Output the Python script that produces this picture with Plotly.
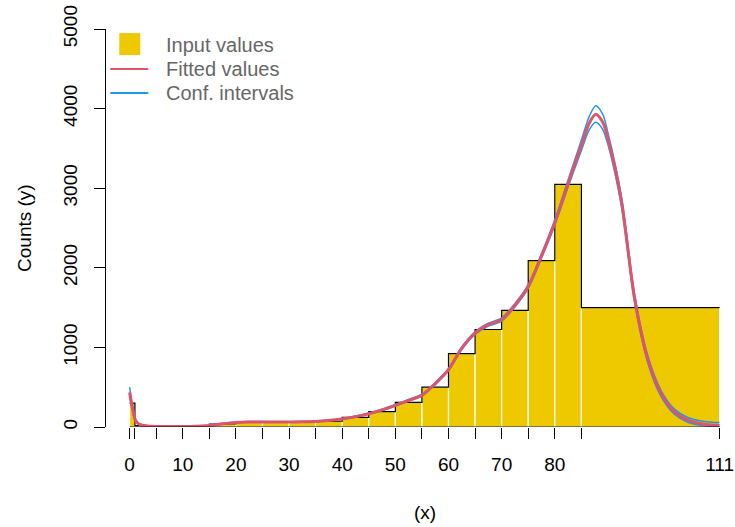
import plotly.graph_objects as go

# ---- data ----
breaks = [0, 1, 5, 10, 15, 20, 25, 30, 35, 40, 45, 50, 55, 60, 65, 70, 75, 80, 85, 111]
input_values = [300, 18, 6, 8, 38, 65, 62, 63, 72, 120, 193, 310, 500, 923, 1225, 1466, 2090, 3048, 1500]

fit_x = [0, 0.5, 1, 1.5, 2, 3, 4, 5, 7.5, 10, 12.5, 15, 17.5, 20, 22.5, 25, 27.5, 30, 32.5, 35,
         37.5, 40, 42.5, 45, 47.5, 50, 52.5, 55, 57.5, 60, 62.5, 65, 67.5, 70, 72.5, 75, 77.5,
         80, 82.5, 85, 86.5, 87.7, 89, 90, 92.5, 95, 97.5, 100, 102.5, 105, 107.5, 109, 111]
fitted = [435, 250, 100, 50, 30, 15, 9, 7, 6, 7, 10, 18, 40, 58, 64, 64, 63, 63, 65, 70,
          82, 102, 130, 168, 215, 272, 335, 400, 545, 720, 990, 1180, 1285, 1350, 1530, 1765, 2150,
          2570, 3060, 3540, 3820, 3928, 3830, 3620, 2850, 1620, 850, 420, 190, 85, 42, 28, 20]
lower = [380, 225, 90, 45, 26, 12, 6, 4, 3, 4, 7, 15, 36, 54, 60, 60, 59, 59, 61, 66,
         77, 96, 123, 160, 206, 262, 324, 388, 532, 706, 974, 1163, 1267, 1330, 1508, 1741, 2122,
         2535, 3015, 3475, 3735, 3828, 3740, 3545, 2785, 1568, 805, 382, 160, 60, 22, 10, 3]
upper = [500, 280, 112, 56, 34, 18, 12, 10, 9, 10, 13, 21, 44, 62, 68, 68, 67, 67, 69, 74,
         87, 108, 137, 176, 224, 282, 346, 412, 558, 734, 1006, 1197, 1303, 1370, 1552, 1789, 2178,
         2605, 3105, 3605, 3905, 4036, 3930, 3695, 2915, 1672, 895, 458, 225, 120, 75, 62, 55]

x_tick_vals = breaks
x_tick_text = ["0", "", "", "10", "", "20", "", "30", "", "40", "", "50", "", "60", "", "70", "", "80", "", "111"]
y_tick_vals = [0, 1000, 2000, 3000, 4000, 5000]

legend_labels = ["Input values", "Fitted values", "Conf. intervals"]

GOLD = "#EEC900"
RED = "#DF536B"
BLUE = "#2297E6"
FONT = "Liberation Sans, Arial, sans-serif"

mids = [(a + b) / 2 for a, b in zip(breaks[:-1], breaks[1:])]
widths = [b - a for a, b in zip(breaks[:-1], breaks[1:])]

fig = go.Figure()
fig.add_trace(go.Bar(x=mids, y=input_values, width=widths, marker=dict(color=GOLD, line=dict(color="white", width=1.2)),
                     name=legend_labels[0], hoverinfo="skip"))
fig.add_trace(go.Scatter(x=breaks, y=input_values + [input_values[-1]], mode="lines",
                         line=dict(color="black", width=1.2, shape="hv"), hoverinfo="skip"))
fig.add_trace(go.Scatter(x=fit_x, y=lower, mode="lines", line=dict(color=BLUE, width=1.5, shape="spline", smoothing=0.8)))
fig.add_trace(go.Scatter(x=fit_x, y=upper, mode="lines", line=dict(color=BLUE, width=1.5, shape="spline", smoothing=0.8)))
fig.add_trace(go.Scatter(x=fit_x, y=fitted, mode="lines", line=dict(color=RED, width=3, shape="spline", smoothing=0.8)))

# x axis line only over the data span (R style)
fig.add_shape(type="line", xref="x", yref="y", x0=0, x1=111, y0=0, y1=0, line=dict(color="black", width=1))

# manual legend (R style)
fig.add_shape(type="rect", xref="x", yref="y", x0=-1.94, x1=2.01, y0=4672, y1=4949, fillcolor=GOLD, line=dict(width=0))
fig.add_shape(type="line", xref="x", yref="y", x0=-3.63, x1=3.52, y0=4497, y1=4497, line=dict(color=RED, width=2))
fig.add_shape(type="line", xref="x", yref="y", x0=-3.63, x1=3.52, y0=4196, y1=4196, line=dict(color=BLUE, width=2))
for lab, yv in zip(legend_labels, [4800, 4497, 4196]):
    fig.add_annotation(x=6.45, y=yv, xref="x", yref="y", text=lab, showarrow=False, xanchor="left", yanchor="middle",
                       font=dict(size=20, color="#666666", family=FONT))

# plot area (px): left 105.7, top 29.3, width 629.3, height 398.1
fig.add_annotation(x=55.5, y=-(513 - 427.4) / 398.1, xref="x", yref="paper", text="(x)", showarrow=False,
                   font=dict(size=19, color="black", family=FONT), yanchor="middle")
fig.add_annotation(x=(24 - 105.7) / 629.3, y=0.501, xref="paper", yref="paper", text="Counts (y)", showarrow=False,
                   textangle=-90, font=dict(size=19, color="black", family=FONT), xanchor="center", yanchor="middle")

fig.update_layout(
    width=735, height=527,
    margin=dict(l=105.7, r=0, t=29.3, b=99.6, pad=0, autoexpand=False),
    paper_bgcolor="white", plot_bgcolor="white",
    showlegend=False,
    font=dict(family=FONT, size=19, color="black"),
    xaxis=dict(range=[-4.44, 113.9], tickmode="array", tickvals=x_tick_vals, ticktext=x_tick_text,
               ticks="outside", ticklen=11, tickwidth=1, tickcolor="black", showline=False, showgrid=False,
               zeroline=False, ticklabelstandoff=9, ticklabeloverflow="allow", tickfont=dict(size=19, family=FONT)),
    yaxis=dict(range=[0, 5000], tickmode="array", tickvals=y_tick_vals, tickangle=-90,
               ticks="outside", ticklen=11, tickwidth=1, tickcolor="black", showline=True, linecolor="black",
               linewidth=1, showgrid=False, zeroline=False, ticklabelstandoff=9, ticklabeloverflow="allow",
               tickfont=dict(size=19, family=FONT)),
)

# remove the default 8px page margin so the figure fills the window exactly
fig.write_html("out.html", config={"displayModeBar": False, "staticPlot": True},
               post_script="document.body.style.margin='0';document.body.style.overflow='hidden';")
